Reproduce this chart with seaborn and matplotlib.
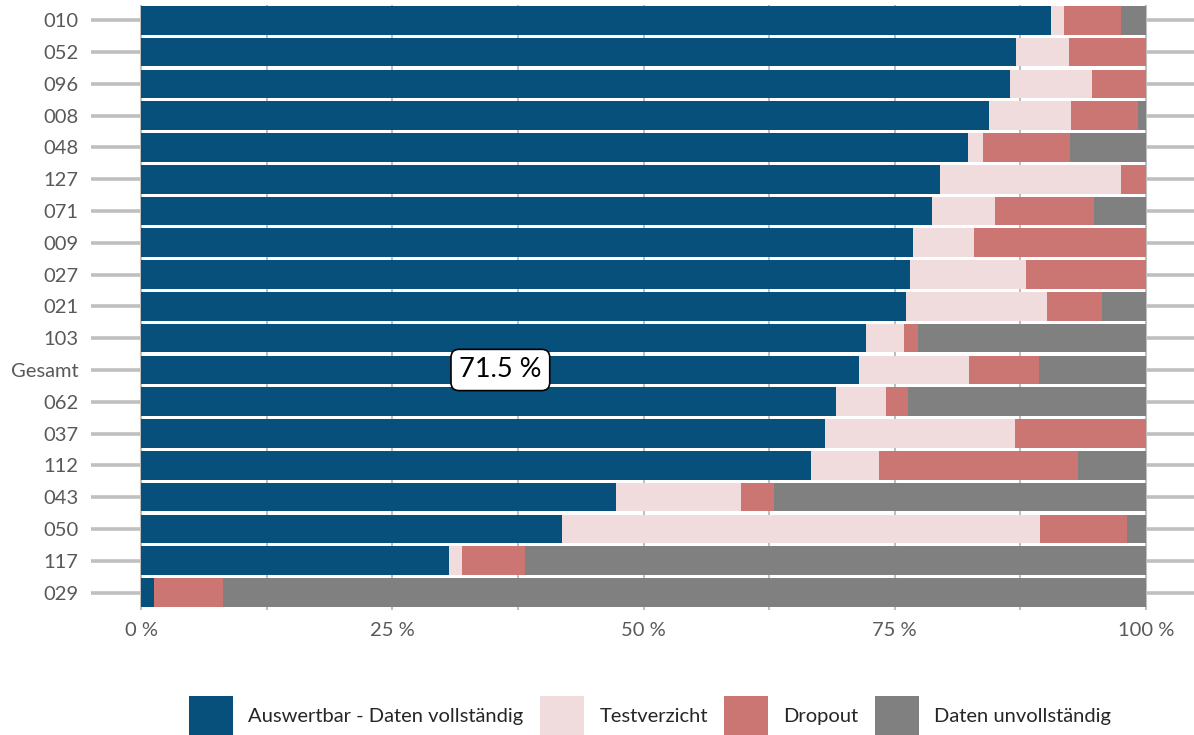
import numpy as np
import pandas as pd
import matplotlib
matplotlib.use("Agg")
import matplotlib.pyplot as plt
from matplotlib.patches import Patch
from matplotlib.ticker import FixedLocator
import seaborn as sns

categories = ["010", "052", "096", "008", "048", "127", "071", "009", "027", "021",
              "103", "Gesamt", "062", "037", "112", "043", "050", "117", "029"]
auswertbar = [90.6, 87.1, 86.5, 84.4, 82.3, 79.5, 78.75, 76.8, 76.5, 76.1,
              72.15, 71.5, 69.2, 68.1, 66.7, 47.3, 41.9, 30.6, 1.3]
testverzicht = [1.3, 5.3, 8.1, 8.2, 1.5, 18.0, 6.25, 6.1, 11.55, 14.1,
                3.8, 10.95, 4.9, 18.9, 6.7, 12.45, 47.6, 1.3, 0.0]
dropout = [5.65, 7.6, 5.4, 6.65, 8.7, 2.5, 9.8, 17.1, 11.95, 5.4,
           1.35, 6.95, 2.2, 13.0, 19.9, 3.2, 8.65, 6.3, 6.85]
unvollstaendig = [2.45, 0.0, 0.0, 0.75, 7.5, 0.0, 5.2, 0.0, 0.0, 4.4,
                  22.7, 10.6, 23.7, 0.0, 6.7, 37.05, 1.85, 61.8, 91.85]

series_names = ["Auswertbar - Daten vollständig", "Testverzicht", "Dropout", "Daten unvollständig"]
colors = ["#06507B", "#F0DCDC", "#CC7674", "#808080"]
annot_label = "71.5 %"

df = pd.DataFrame({"cat": categories, "a": auswertbar, "t": testverzicht,
                   "d": dropout, "u": unvollstaendig})
cum = df[["a", "t", "d", "u"]].cumsum(axis=1)
cum["cat"] = df["cat"]

sns.set_theme(style="white")
plt.rcParams["font.family"] = ["Lato", "DejaVu Sans"]

fig = plt.figure(figsize=(11.94, 7.35), dpi=100)
ax = fig.add_axes([91 / 1194, 1 - 610 / 735, 1 - 91 / 1194, (610 - 5) / 735])

for col, c in zip(["u", "d", "t", "a"], colors[::-1]):
    sns.barplot(data=cum, y="cat", x=col, order=categories, orient="h",
                color=c, saturation=1, width=0.9, linewidth=0, ax=ax, zorder=3)

ax.set_xlim(-5, 104.8)
ax.set_ylim(18.55, -0.48)
ax.set_xlabel("")
ax.set_ylabel("")
for s in ax.spines.values():
    s.set_visible(False)

ax.xaxis.set_major_locator(FixedLocator([0, 25, 50, 75, 100]))
ax.xaxis.set_minor_locator(FixedLocator([12.5, 37.5, 62.5, 87.5]))
ax.set_xticklabels(["0 %", "25 %", "50 %", "75 %", "100 %"])
ax.set_axisbelow(True)
ax.grid(axis="x", which="both", color="#BFBFBF", linewidth=1.5, zorder=0)
ax.grid(axis="y", which="major", color="#BFBFBF", linewidth=2.6, zorder=0)
ax.tick_params(axis="both", which="both", length=0, labelsize=14.5, labelcolor="#595959")
ax.tick_params(axis="y", pad=9)
ax.tick_params(axis="x", pad=9)

gi = categories.index("Gesamt")
ax.text(auswertbar[gi] / 2, gi, annot_label, ha="center", va="center", fontsize=19.5,
        color="black", zorder=5,
        bbox=dict(boxstyle="round,pad=0.3", facecolor="white", edgecolor="black", linewidth=1.2))

handles = [Patch(facecolor=c, edgecolor="none", label=n) for c, n in zip(colors, series_names)]
fig.legend(handles=handles, loc="center", bbox_to_anchor=(650 / 1194, 1 - 716 / 735),
           ncol=4, frameon=False, fontsize=14.5, handlelength=2.2, handleheight=2.75,
           handletextpad=0.75, columnspacing=0.8, borderpad=0)

fig.savefig("out.png", dpi=100)
